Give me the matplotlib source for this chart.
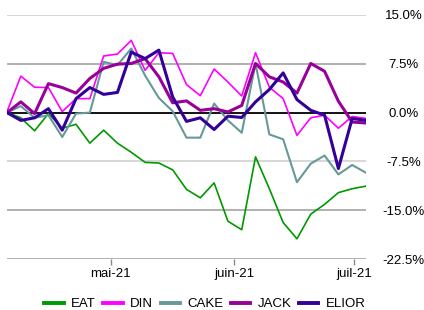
import numpy as np
import pandas as pd
import matplotlib
matplotlib.use("Agg")
from matplotlib import pyplot as plt
from matplotlib.lines import Line2D

plt.rcParams['font.family'] = ['Liberation Sans', 'DejaVu Sans']

dates = pd.date_range("2021-04-05", "2021-07-04", periods=27)

eat = [0, -0.8, -2.8, -0.15, -2.4, -1.8, -4.7, -2.7, -4.7, -6.1, -7.65, -7.75, -8.8,
       -11.8, -13.1, -10.8, -16.7, -18.0, -6.8, -11.7, -16.9, -19.4, -15.6, -14.1,
       -12.3, -11.7, -11.3]
din = [0.15, 5.6, 3.9, 3.85, 0.15, 2.15, 2.15, 8.7, 9.0, 11.1, 6.5, 9.2, 9.1,
       4.3, 2.6, 6.7, 4.7, 2.55, 9.2, 3.9, 2.15, -3.5, -0.8, -0.4, -2.4, -0.6, -0.9]
cake = [0, 1.0, -0.8, -0.4, -3.75, -0.15, 0, 7.8, 7.3, 9.85, 5.7, 2.25, 0.2,
        -3.85, -3.85, 1.4, -1.2, -3.1, 7.55, -3.35, -4.1, -10.7, -7.85, -6.6,
        -9.5, -8.05, -9.25]
jack = [0, 1.65, -0.15, 4.45, 3.85, 3.0, 5.25, 6.8, 7.45, 7.55, 8.3, 5.5, 1.5,
        1.8, 0.35, 0.6, 0.1, 1.1, 7.55, 5.5, 4.7, 3.0, 7.55, 6.35, 1.75, -1.45, -1.6]
elior = [0, -1.2, -0.8, 0.6, -2.7, 2.15, 3.85, 2.8, 3.1, 9.3, 8.3, 9.6, 2.4,
         -1.35, -0.8, -2.6, -0.55, -0.75, 1.65, 3.55, 6.1, 2.0, 0.35, -0.4, -8.6,
         -0.9, -1.2]

names = ["EAT", "DIN", "CAKE", "JACK", "ELIOR"]
series = [eat, din, cake, jack, elior]
colors = ["#009900", "#ff00ff", "#669999", "#990099", "#330099"]
widths = [1.2, 1.2, 1.5, 2.2, 2.2]

yticks = [15.0, 7.5, 0.0, -7.5, -15.0, -22.5]
grid_colors = ["#d4d4d4", "#aaaaaa", "black", "#d4d4d4", "#aaaaaa", "#aaaaaa"]
month_ticks = pd.to_datetime(["2021-05-01", "2021-06-01", "2021-07-01"])
month_labels = ["mai-21", "juin-21", "juil-21"]

fig = plt.figure(figsize=(4.24, 3.10), dpi=100)
ax = fig.add_axes([7/424, 51/310, 359/424, 244/310])

for y, c in zip(yticks, grid_colors):
    ax.axhline(y, color=c, lw=1.3, zorder=1)

for s, c, w in zip(series, colors, widths):
    ax.plot(dates, s, color=c, lw=w, zorder=3)

ax.set_xlim(dates[0], dates[-1])
ax.set_ylim(-22.5, 15)
for sp in ax.spines.values():
    sp.set_visible(False)

ax.set_xticks(month_ticks)
ax.set_xticklabels(month_labels, fontsize=9.5)
ax.tick_params(axis='x', length=4.5, width=1, color="#888888", pad=2)

ax.yaxis.tick_right()
ax.set_yticks(yticks)
ax.set_yticklabels([f"{v:.1f}%" for v in yticks], fontsize=9.5)
ax.tick_params(axis='y', length=0, pad=27)
for lab in ax.get_yticklabels():
    lab.set_horizontalalignment('center')

handles = [Line2D([], [], color=c, lw=2.8) for c in colors]
fig.legend(handles, names, loc='center', bbox_to_anchor=(205/424, 6/310),
           ncol=5, frameon=False, fontsize=9.5, handlelength=1.45,
           handletextpad=0.55, columnspacing=0.6, borderpad=0)

fig.savefig("out.png", dpi=100)
